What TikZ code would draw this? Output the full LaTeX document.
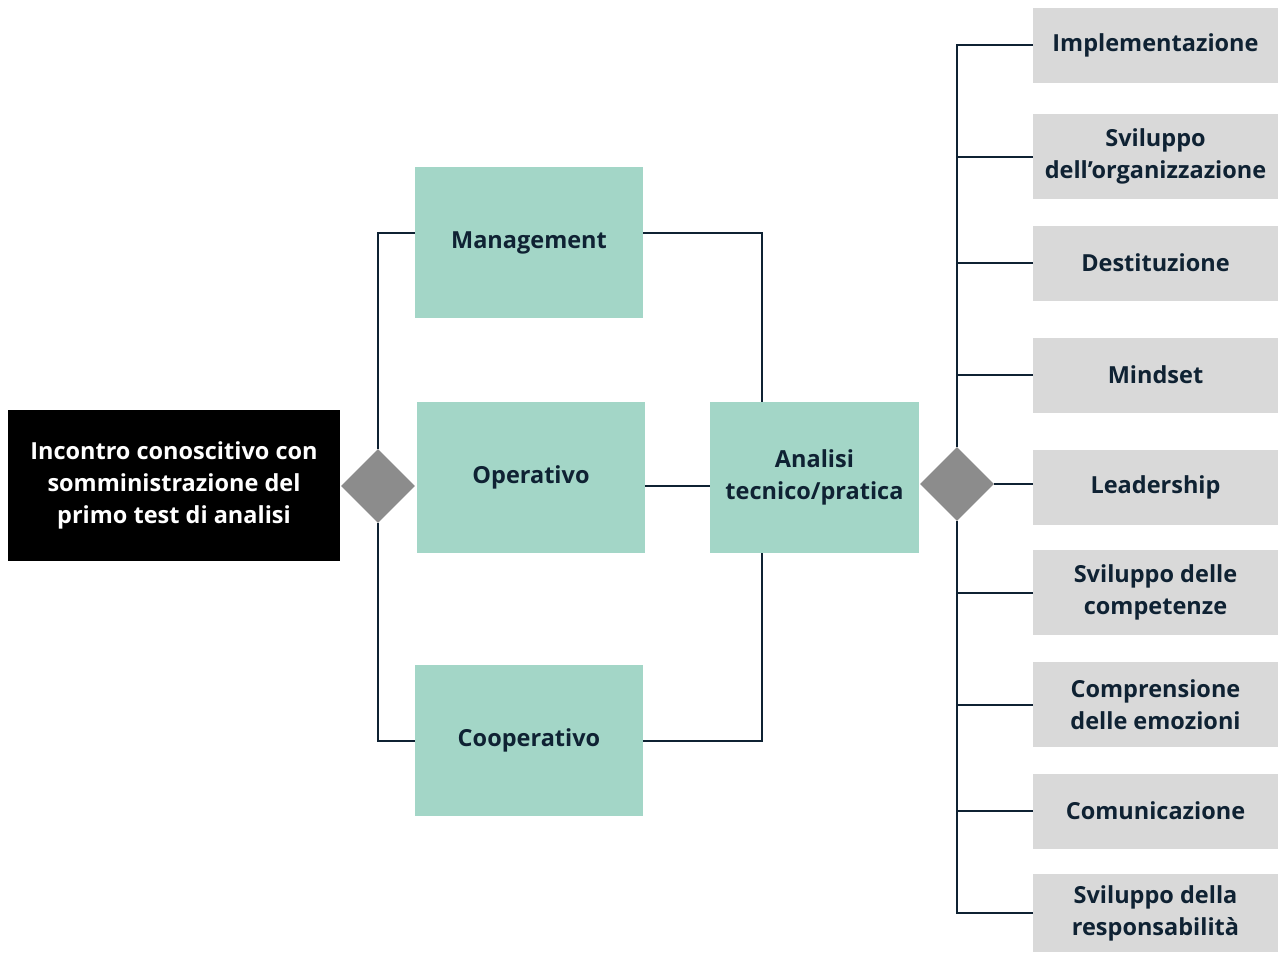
\documentclass[tikz,border=0pt]{standalone}
\usepackage{fontspec}
\setmainfont{Open Sans}
\usetikzlibrary{shapes.geometric}
\definecolor{ink}{HTML}{0F2233}
\definecolor{mint}{HTML}{A3D6C7}
\definecolor{pale}{HTML}{D9D9D9}
\definecolor{greyd}{HTML}{8C8C8C}
\tikzset{
	box/.style={rectangle, inner sep=0pt, align=center, text=ink, font=\fontsize{23.5}{32}\selectfont\bfseries},
	mintbox/.style={box, fill=mint, minimum width=228, minimum height=151},
	voce/.style={box, fill=pale, minimum width=245, minimum height=#1},
	voce/.default=75,
	rombo/.style={diamond, fill=greyd, minimum width=74, minimum height=74, inner sep=0pt},
	conn/.style={draw=ink, line width=2pt}
}

\begin{document}
\begin{tikzpicture}[x=1pt, y=-1pt]
		\useasboundingbox (0,0) rectangle (1278,953);
		
		\node(start) [box, fill=black, text=white, minimum width=332, minimum height=151] at (174,485.5) {Incontro conoscitivo con\\somministrazione del\\primo test di analisi};
		\node(d1) [rombo] at (378,486) {};
		
		\node(mgmt) [mintbox] at (529,242.5) {Management};
		\node(oper) [mintbox] at (531,477.5) {Operativo};
		\node(coop) [mintbox] at (529,740.5) {Cooperativo};
		\node(an) [mintbox, minimum width=209] at (814.5,477.5) {Analisi\\tecnico/pratica};
		\node(d2) [rombo] at (957,484) {};
		\coordinate(mj) at (762,486);
		
		\foreach \n/\y/\h/\t in {1/45/75/Implementazione, 2/156.5/85/{Sviluppo\\dell’organizzazione}, 3/263/75/Destituzione, 4/375/75/Mindset, 5/487/75/Leadership, 6/592.5/85/{Sviluppo delle\\competenze}, 7/704.5/85/{Comprensione\\delle emozioni}, 8/811/75/Comunicazione, 9/913/78/{Sviluppo della\\responsabilità}}
			\node(r\n) [voce=\h] at (1155.5,\y) {\t};
		
		\draw[conn] ([yshift=9.5pt]mgmt.west) -| (d1.north);
		\draw[conn] (coop.west) -| (d1.south);
		\draw[conn] ([yshift=9.5pt]mgmt.east) -| (mj |- an.north);
		\draw[conn] (coop.east) -| (mj |- an.south);
		\draw[conn] (oper.east |- d1) -- (an.west |- d1);
		
		\draw[conn] (r1.west) -| (d2.north);
		\draw[conn] (r9.west) -| (d2.south);
		\draw[conn] (d2.east) -- (r5.west |- d2);
		\foreach \n in {2,3,4,6,7,8}
			\draw[conn] (r\n.west) -- (d2 |- r\n.west);
		
		\end{tikzpicture}
\end{document}
